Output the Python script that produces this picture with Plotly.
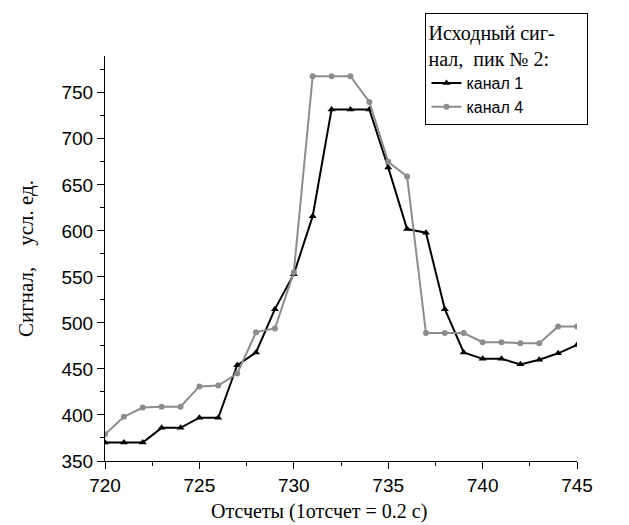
import plotly.graph_objects as go

x_samples = list(range(720, 746))
channel1 = [370, 370, 370, 386, 386, 397, 397, 454, 468, 515, 553, 616, 732, 732, 732,
            669, 602, 598, 515, 468, 461, 461, 455, 460, 467, 476]
channel4 = [379, 398, 408, 409, 409, 431, 432, 445, 490, 494, 555, 768, 768, 768, 740,
            675, 659, 489, 489, 489, 479, 479, 478, 478, 496, 496]
series_names = ["канал 1", "канал 4"]
x_ticks = [720, 725, 730, 735, 740, 745]
y_ticks = [350, 400, 450, 500, 550, 600, 650, 700, 750]

fig = go.Figure()
fig.add_trace(go.Scatter(
    x=x_samples, y=channel1, name=series_names[0], mode="lines+markers",
    line=dict(color="#000000", width=2),
    marker=dict(symbol="triangle-up", size=7, color="#000000"),
))
fig.add_trace(go.Scatter(
    x=x_samples, y=channel4, name=series_names[1], mode="lines+markers",
    line=dict(color="#8c8c8c", width=2),
    marker=dict(symbol="circle", size=6, color="#8c8c8c"),
))

axis_font = dict(family="Liberation Sans, Arial", size=19, color="#000000")
title_font = dict(family="Liberation Serif, Times New Roman", size=21, color="#000000")
nb = "\u00a0"

fig.update_layout(
    width=629, height=525,
    margin=dict(l=105, r=52, t=56, b=64),
    paper_bgcolor="white", plot_bgcolor="white",
    showlegend=True,
    legend=dict(
        x=0.679, xanchor="left", y=1.106, yanchor="top",
        bgcolor="white", bordercolor="#000000", borderwidth=1,
        font=dict(family="Liberation Sans, Arial", size=16, color="#000000"),
        title=dict(text="Исходный сиг-" + nb * 6 + "<br>нал," + nb * 2 + "пик № 2:",
                   font=dict(family="Liberation Serif, Times New Roman", size=20, color="#000000")),
        tracegroupgap=0, itemwidth=30,
    ),
    xaxis=dict(
        range=[720, 745], tickvals=x_ticks, ticktext=[str(v) for v in x_ticks],
        showgrid=False, zeroline=False, showline=True, linecolor="#000000", linewidth=1,
        ticks="outside", ticklen=7, tickcolor="#000000", tickfont=axis_font,
        minor=dict(dtick=2.5, ticks="outside", ticklen=4, tickcolor="#000000", showgrid=False),
    ),
    yaxis=dict(
        range=[350, 790], tickvals=y_ticks, ticktext=[str(v) for v in y_ticks],
        showgrid=False, zeroline=False, showline=True, linecolor="#000000", linewidth=1,
        ticks="outside", ticklen=7, tickcolor="#000000", tickfont=axis_font,
        minor=dict(dtick=25, ticks="outside", ticklen=4, tickcolor="#000000", showgrid=False),
        title=dict(text="Сигнал," + nb * 4 + "усл. ед.", font=title_font, standoff=22),
    ),
    annotations=[dict(
        text="Отсчеты (1отсчет = 0.2 с)",
        font=dict(family="Liberation Serif, Times New Roman", size=20, color="#000000"),
        xref="paper", yref="paper", x=0.453, y=-0.124,
        xanchor="center", yanchor="middle", showarrow=False,
    )],
)

fig.write_html("out.html")
